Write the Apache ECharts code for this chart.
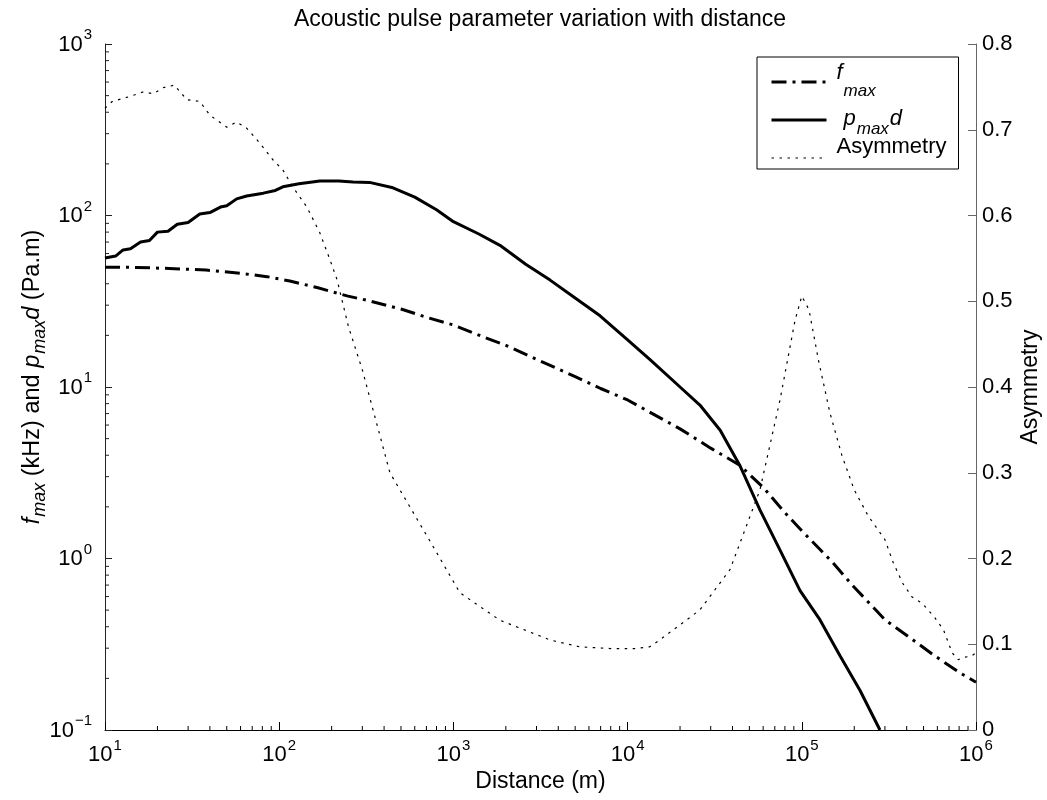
<!DOCTYPE html>
<html>
<head>
<meta charset="utf-8">
<script src="https://cdn.jsdelivr.net/npm/echarts@6/dist/echarts.min.js"></script>
<style>html,body{margin:0;padding:0;background:#fff}#c{width:1047px;height:800px}</style>
</head>
<body>
<div id="c"></div>
<script>
// ---- data ----
const fmaxDist = [10, 15, 25, 38, 60, 85, 115, 165, 245, 320, 500, 700, 1000, 1500, 2000, 3000, 5000, 7000, 1e4, 1.5e4, 2e4, 3e4, 4.4e4, 6e4, 8e4, 1e5, 1.5e5, 2e5, 3e5, 4.2e5, 5.7e5, 8.1e5, 1e6];
const fmaxVal  = [50, 49.8, 49, 48.1, 46, 44, 41.5, 38, 34, 32, 28.5, 25.5, 23, 19.5, 17.5, 14.5, 11.5, 9.8, 8.4, 6.7, 5.7, 4.4, 3.5, 2.6, 1.85, 1.45, 0.95, 0.68, 0.44, 0.344, 0.274, 0.215, 0.19];

const pmaxdDist = [10, 11.5, 12.7, 14, 16, 18, 20, 23, 26, 30, 35, 40, 46, 50, 57, 65, 81, 95, 105, 130, 171, 220, 265, 330, 450, 600, 800, 1000, 1400, 1850, 2600, 3590, 5000, 6950, 1e4, 1.35e4, 2e4, 2.6e4, 3.4e4, 4.4e4, 5.75e4, 7.5e4, 9.77e4, 1.27e5, 1.66e5, 2.16e5, 2.81e5];
const pmaxdVal  = [56.5, 58, 63, 64, 70, 71.5, 80, 81, 89, 91, 102, 104, 112, 114, 125, 130, 135, 140, 147, 153, 159, 159, 157, 156, 145, 128, 108, 92, 78, 67, 52, 42, 33, 26, 18.8, 14.4, 10, 7.85, 5.6, 3.5, 1.92, 1.12, 0.65, 0.44, 0.27, 0.17, 0.1];

const asymDist = [10, 11, 14, 16.5, 19, 21.5, 25, 29.5, 35, 40, 50, 57, 65, 77, 92, 105, 120, 144, 171, 196, 215, 250, 300, 432, 735, 1090, 1850, 3590, 5300, 8000, 1.1e4, 1.34e4, 1.53e4, 2.6e4, 3.87e4, 5.75e4, 7.5e4, 9.15e4, 1e5, 1.1e5, 1.25e5, 1.45e5, 1.7e5, 2e5, 2.4e5, 3e5, 3.35e5, 3.8e5, 4.3e5, 4.9e5, 5.8e5, 6.5e5, 7.3e5, 7.9e5, 8.6e5, 9.4e5, 1e6];
const asymVal  = [0.725, 0.733, 0.739, 0.744, 0.742, 0.749, 0.752, 0.735, 0.733, 0.717, 0.703, 0.709, 0.702, 0.685, 0.665, 0.653, 0.633, 0.61, 0.58, 0.548, 0.525, 0.47, 0.42, 0.30, 0.22, 0.16, 0.128, 0.105, 0.097, 0.095, 0.095, 0.097, 0.105, 0.14, 0.187, 0.28, 0.385, 0.478, 0.506, 0.49, 0.43, 0.37, 0.32, 0.28, 0.25, 0.222, 0.195, 0.171, 0.155, 0.148, 0.131, 0.117, 0.09, 0.082, 0.085, 0.086, 0.09];

const seriesNames = ['fmax', 'pmaxd', 'Asymmetry'];
const titleText = 'Acoustic pulse parameter variation with distance';
const xName = 'Distance (m)';
const yRightName = 'Asymmetry';
const minorMultipliers = [2, 3, 4, 5, 6, 7, 8, 9];
const xDecades = [10, 100, 1000, 1e4, 1e5];
const yDecades = [0.1, 1, 10, 100];

// ---- helpers ----
const FONT = "'Liberation Sans', Arial, Helvetica, sans-serif";
const pairs = (xs, ys) => xs.map((x, i) => [x, ys[i]]);
const xMinor = [];
xDecades.forEach(d => minorMultipliers.forEach(m => xMinor.push([m * d, 0.1])));
const yMinor = [];
yDecades.forEach(d => minorMultipliers.forEach(m => yMinor.push([10, m * d])));

// rich-text token: its glyph centre sits c px below the top of its line
function tok(size, c, extra) {
  return Object.assign({fontFamily: FONT, fontSize: size, color: '#000', height: 0,
    verticalAlign: 'top', padding: [c, 0, 0, 0]}, extra || {});
}
function powLabel(v) {
  const e = Math.round(Math.log10(v));
  return '{b|10}{e|' + (e < 0 ? '\u2212' + (-e) : e) + '}';
}

const chart = echarts.init(document.getElementById('c'), null, {renderer: 'canvas'});
const option = {
  animation: false,
  backgroundColor: '#fff',
  title: {
    text: titleText, left: 540, top: 4.5, padding: 0, textAlign: 'center',
    textStyle: {fontFamily: FONT, fontSize: 23, fontWeight: 'normal', color: '#000', lineHeight: 30}
  },
  grid: {left: 105, right: 71, top: 44, bottom: 70, containLabel: false, outerBoundsMode: 'none'},
  legend: {
    orient: 'vertical', left: 757, top: 57, padding: [4.4, 12, 9.4, 13],
    itemWidth: 55, itemHeight: 4, itemGap: -1.1,
    borderColor: '#000', borderWidth: 1, borderRadius: 0, backgroundColor: '#fff',
    selectedMode: false,
    data: [
      {name: 'fmax', lineStyle: {width: 3}, itemStyle: {opacity: 0}},
      {name: 'pmaxd', lineStyle: {width: 3}, itemStyle: {opacity: 0}},
      {name: 'Asymmetry', lineStyle: {width: 1.2}, itemStyle: {opacity: 0}}
    ],
    formatter: n => n === 'fmax' ? '{lf|f}{ls|max}' : (n === 'pmaxd' ? '{lp|p}{ls|max}{ld|d}{lh|A}' : '{lt|Asymmetry}'),
    textStyle: {
      fontFamily: FONT, fontSize: 22, color: '#000',
      rich: {
        lf: tok(22, 1.4, {fontStyle: 'italic', lineHeight: 22, padding: [1.4, 0, 0, 5]}),
        ls: tok(17, 20, {fontStyle: 'italic', lineHeight: 22, padding: [20, 0, 0, 1]}),
        lp: tok(22, 9.5, {fontStyle: 'italic', lineHeight: 22, padding: [9.5, 0, 0, 12]}),
        ld: tok(22, 9.5, {fontStyle: 'italic', lineHeight: 22, padding: [9.5, 0, 0, 1]}),
        lh: tok(22, 0.4, {lineHeight: 22, color: 'rgba(0,0,0,0)'}),
        lt: tok(22, 0.4, {lineHeight: 22, padding: [0.4, 0, 0, 5]})
      }
    }
  },
  xAxis: {
    type: 'log', logBase: 10, min: 10, max: 1e6, splitNumber: 5,
    axisLine: {show: true, lineStyle: {color: '#000', width: 1}},
    axisTick: {show: true, inside: true, length: 8, lineStyle: {color: '#000'}},
    minorTick: {show: false},
    splitLine: {show: false},
    axisLabel: {
      margin: 7, formatter: powLabel, showMinLabel: true, showMaxLabel: true,
      rich: {
        b: tok(22, 18, {lineHeight: 30}),
        e: tok(15, 8.5, {lineHeight: 30, padding: [8.5, 0, 0, 1]})
      }
    },
    name: '{t|' + xName + '}', nameLocation: 'middle', nameGap: 40, nameMoveOverlap: false,
    nameTextStyle: {rich: {t: tok(23, 11.5, {lineHeight: 23})}}
  },
  yAxis: [
    {
      type: 'log', logBase: 10, min: 0.1, max: 1000, splitNumber: 4, position: 'left',
      axisLine: {show: true, lineStyle: {color: '#222', width: 1}},
      axisTick: {show: true, inside: true, length: 7, lineStyle: {color: '#222'}},
      splitLine: {show: false},
      axisLabel: {
        margin: 13, formatter: powLabel, showMinLabel: true, showMaxLabel: true,
        rich: {
          b: tok(22, 15.5, {lineHeight: 30}),
          e: tok(15, 6, {lineHeight: 30, padding: [6, 0, 0, 1]})
        }
      },
      name: '{f0|f}{s|max}{n| (kHz) and }{i|p}{s|max}{i|d}{n| (Pa.m)}',
      nameLocation: 'middle', nameRotate: 90, nameGap: 54.5, nameMoveOverlap: false,
      nameTextStyle: {
        rich: {
          f0: tok(23.5, 12, {lineHeight: 30, fontStyle: 'italic', padding: [12, 0, 0, 20]}),
          n: tok(23.5, 12, {lineHeight: 30}),
          i: tok(23.5, 12, {lineHeight: 30, fontStyle: 'italic'}),
          s: tok(18, 19.5, {lineHeight: 30, fontStyle: 'italic', padding: [19.5, 0, 0, 1]})
        }
      }
    },
    {
      type: 'value', min: 0, max: 0.8, interval: 0.1, position: 'right',
      axisLine: {show: true, lineStyle: {color: '#666', width: 1}},
      axisTick: {show: true, inside: true, length: 8, lineStyle: {color: '#666'}},
      splitLine: {show: false},
      axisLabel: {margin: 6, fontFamily: FONT, fontSize: 22, color: '#000'},
      name: '{t|' + yRightName + '}', nameLocation: 'middle', nameRotate: 90, nameGap: 43.5, nameMoveOverlap: false,
      nameTextStyle: {rich: {t: tok(23, 11.5, {lineHeight: 23})}}
    }
  ],
  series: [
    {
      name: 'fmax', type: 'line', xAxisIndex: 0, yAxisIndex: 0, data: pairs(fmaxDist, fmaxVal),
      symbol: 'none', showSymbol: false,
      lineStyle: {color: '#000', width: 3, type: [15, 6, 3, 6]}, itemStyle: {color: '#000'}
    },
    {
      name: 'pmaxd', type: 'line', xAxisIndex: 0, yAxisIndex: 0, data: pairs(pmaxdDist, pmaxdVal),
      symbol: 'none', showSymbol: false,
      lineStyle: {color: '#000', width: 3, type: 'solid'}, itemStyle: {color: '#000'}
    },
    {
      name: 'Asymmetry', type: 'line', xAxisIndex: 0, yAxisIndex: 1, data: pairs(asymDist, asymVal),
      symbol: 'none', showSymbol: false,
      lineStyle: {color: '#000', width: 1.2, type: [2.5, 5.5]}, itemStyle: {color: '#000'}
    },
    {
      type: 'custom', xAxisIndex: 0, yAxisIndex: 0, silent: true, clip: false, data: xMinor,
      renderItem: (params, api) => {
        const p = api.coord([api.value(0), api.value(1)]);
        return {type: 'line', shape: {x1: p[0], y1: p[1], x2: p[0], y2: p[1] - 4}, style: {stroke: '#000', lineWidth: 1}};
      }
    },
    {
      type: 'custom', xAxisIndex: 0, yAxisIndex: 0, silent: true, clip: false, data: yMinor,
      renderItem: (params, api) => {
        const p = api.coord([api.value(0), api.value(1)]);
        return {type: 'line', shape: {x1: p[0], y1: p[1], x2: p[0] + 4, y2: p[1]}, style: {stroke: '#222', lineWidth: 1}};
      }
    }
  ]
};
chart.setOption(option);
</script>
</body>
</html>
